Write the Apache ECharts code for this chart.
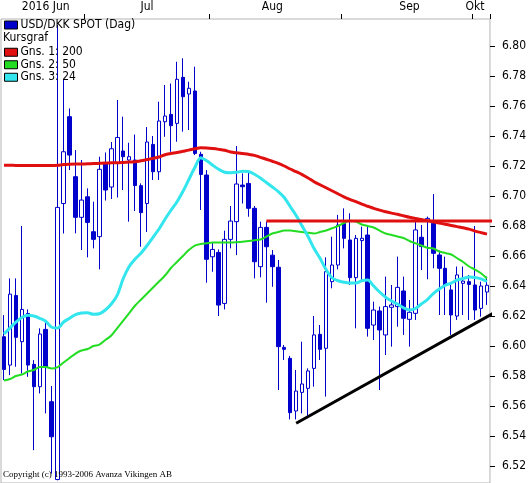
<!DOCTYPE html>
<html>
<head>
<meta charset="utf-8">
<script src="https://cdn.jsdelivr.net/npm/echarts@6/dist/echarts.min.js"></script>
<style>
  html, body { margin: 0; padding: 0; background: #fff; }
  #chart { width: 529px; height: 483px; }
</style>
</head>
<body>
<div id="chart"></div>
<script>
// handelsdagar 2016-06-13 .. 2016-10-05
const dates = [
  '2016-06-13','2016-06-14','2016-06-15','2016-06-16','2016-06-17',
  '2016-06-20','2016-06-21','2016-06-22','2016-06-23','2016-06-24',
  '2016-06-27','2016-06-28','2016-06-29','2016-06-30',
  '2016-07-01','2016-07-04','2016-07-05','2016-07-06','2016-07-07','2016-07-08',
  '2016-07-11','2016-07-12','2016-07-13','2016-07-14','2016-07-15',
  '2016-07-18','2016-07-19','2016-07-20','2016-07-21','2016-07-22',
  '2016-07-25','2016-07-26','2016-07-27','2016-07-28','2016-07-29',
  '2016-08-01','2016-08-02','2016-08-03','2016-08-04','2016-08-05',
  '2016-08-08','2016-08-09','2016-08-10','2016-08-11','2016-08-12',
  '2016-08-15','2016-08-16','2016-08-17','2016-08-18','2016-08-19',
  '2016-08-22','2016-08-23','2016-08-24','2016-08-25','2016-08-26',
  '2016-08-30','2016-08-31',
  '2016-09-01','2016-09-02','2016-09-05','2016-09-06','2016-09-07','2016-09-08','2016-09-09',
  '2016-09-12','2016-09-13','2016-09-14','2016-09-15','2016-09-16',
  '2016-09-19','2016-09-20','2016-09-21','2016-09-22','2016-09-23',
  '2016-09-26','2016-09-27','2016-09-28','2016-09-29','2016-09-30',
  '2016-10-03','2016-10-04','2016-10-05'
]

// [open, close, low, high]
const ohlc = [
  [6.6062, 6.5844, 6.5773, 6.6206], [6.5873, 6.6346, 6.5806, 6.6451], [6.6337, 6.6058, 6.5862, 6.6451],
  [6.6029, 6.6244, 6.5817, 6.6800], [6.6217, 6.5873, 6.5795, 6.6244], [6.5878, 6.5729, 6.5306, 6.5906],
  [6.5729, 6.6080, 6.5684, 6.6118], [6.6111, 6.5862, 6.5551, 6.6173], [6.5629, 6.5395, 6.5150, 6.5733],
  [6.5110, 6.6924, 6.5105, 6.8140], [6.6950, 6.7295, 6.6750, 6.7780], [6.7529, 6.7273, 6.7173, 6.7584],
  [6.7129, 6.6858, 6.6751, 6.7306], [6.6858, 6.6973, 6.6640, 6.7240], [6.6995, 6.6824, 6.6591, 6.7051],
  [6.6762, 6.6711, 6.6651, 6.6962], [6.6729, 6.7178, 6.6511, 6.7262], [6.7220, 6.7040, 6.6970, 6.7290],
  [6.7060, 6.7315, 6.6980, 6.7360], [6.7220, 6.7390, 6.6990, 6.7640], [6.7300, 6.7262, 6.7040, 6.7529],
  [6.7240, 6.7262, 6.6829, 6.7355], [6.7240, 6.7070, 6.6900, 6.7410], [6.7069, 6.6889, 6.6662, 6.7084],
  [6.6950, 6.7360, 6.6760, 6.7460], [6.7344, 6.7162, 6.7107, 6.7400], [6.7162, 6.7500, 6.7107, 6.7629],
  [6.7495, 6.7533, 6.7395, 6.7740], [6.7544, 6.7469, 6.7295, 6.7750], [6.7484, 6.7778, 6.7362, 6.7895],
  [6.7791, 6.7662, 6.7429, 6.7918], [6.7680, 6.7718, 6.7440, 6.7762], [6.7700, 6.7284, 6.7273, 6.7862],
  [6.7278, 6.7144, 6.6907, 6.7295], [6.7140, 6.6578, 6.6422, 6.7173], [6.6595, 6.6644, 6.6495, 6.6689],
  [6.6624, 6.6273, 6.6200, 6.6644], [6.6284, 6.6711, 6.6244, 6.6769], [6.6711, 6.6833, 6.6651, 6.6933],
  [6.6829, 6.7080, 6.6606, 6.7333], [6.7073, 6.7062, 6.6950, 6.7151], [6.7084, 6.6918, 6.6862, 6.7162],
  [6.6918, 6.6562, 6.6451, 6.6933], [6.6529, 6.6791, 6.6458, 6.6829], [6.6791, 6.6662, 6.6289, 6.6829],
  [6.6606, 6.6529, 6.6395, 6.6640], [6.6525, 6.5996, 6.5707, 6.6574], [6.5991, 6.5978, 6.5907, 6.6007],
  [6.5918, 6.5556, 6.5511, 6.5934], [6.5567, 6.5700, 6.5511, 6.5840], [6.5691, 6.5747, 6.5551, 6.6029],
  [6.5718, 6.5834, 6.5529, 6.5851], [6.5851, 6.6074, 6.5729, 6.6200], [6.6078, 6.5978, 6.5907, 6.6140],
  [6.5985, 6.6496, 6.5663, 6.6591], [6.6429, 6.6540, 6.6385, 6.6729], [6.6540, 6.6807, 6.6511, 6.6874],
  [6.6818, 6.6718, 6.6651, 6.6918], [6.6707, 6.6456, 6.6407, 6.6885], [6.6456, 6.6718, 6.6118, 6.6740],
  [6.6703, 6.6718, 6.6440, 6.6796], [6.6740, 6.6118, 6.6063, 6.6796], [6.6140, 6.6240, 6.6040, 6.6296],
  [6.6234, 6.6107, 6.5707, 6.6263], [6.6074, 6.6263, 6.5940, 6.6463], [6.6258, 6.6274, 6.5996, 6.6407],
  [6.6263, 6.6391, 6.6129, 6.6596], [6.6367, 6.6185, 6.6074, 6.6463], [6.6178, 6.6225, 6.5996, 6.6307],
  [6.6218, 6.6774, 6.6174, 6.6840], [6.6725, 6.6663, 6.6507, 6.6807], [6.6836, 6.6851, 6.6445, 6.6863],
  [6.6818, 6.6618, 6.6518, 6.7013], [6.6607, 6.6518, 6.6207, 6.6636], [6.6518, 6.6407, 6.6207, 6.6596],
  [6.6374, 6.6207, 6.6074, 6.6418], [6.6200, 6.6474, 6.6174, 6.6530], [6.6418, 6.6433, 6.6207, 6.6530],
  [6.6429, 6.6411, 6.6174, 6.6474], [6.6407, 6.6240, 6.6174, 6.6800], [6.6251, 6.6400, 6.6196, 6.6429],
  [6.6360, 6.6405, 6.6274, 6.6463]
]

// glidande medelvärden
const gns200 = [
  6.7205, 6.7205, 6.7204, 6.7204, 6.7203, 6.7203, 6.7204, 6.7204, 6.7203, 6.7205,
  6.7210, 6.7212, 6.7213, 6.7213, 6.7215, 6.7216, 6.7218, 6.7220, 6.7221, 6.7222,
  6.7224, 6.7226, 6.7228, 6.7235, 6.7243, 6.7251, 6.7260, 6.7275, 6.7283, 6.7290,
  6.7298, 6.7306, 6.7315, 6.7322, 6.7320, 6.7316, 6.7311, 6.7305, 6.7294, 6.7288,
  6.7283, 6.7278, 6.7271, 6.7258, 6.7245, 6.7232, 6.7218, 6.7200, 6.7180, 6.7162,
  6.7143, 6.7120, 6.7095, 6.7075, 6.7055, 6.7035, 6.7015, 6.6995, 6.6978, 6.6962,
  6.6946, 6.6932, 6.6918, 6.6906, 6.6895, 6.6886, 6.6878, 6.6868, 6.6858, 6.6850,
  6.6843, 6.6836, 6.6828, 6.6820, 6.6812, 6.6804, 6.6796, 6.6788, 6.6779, 6.6766,
  6.6756, 6.6746
]
const gns50 = [
  6.5770, 6.5780, 6.5800, 6.5810, 6.5830, 6.5840, 6.5860, 6.5860, 6.5850, 6.5860,
  6.5890, 6.5920, 6.5950, 6.5970, 6.5980, 6.6000, 6.6010, 6.6040, 6.6070, 6.6120,
  6.6170, 6.6220, 6.6270, 6.6310, 6.6350, 6.6390, 6.6430, 6.6470, 6.6520, 6.6560,
  6.6600, 6.6640, 6.6670, 6.6680, 6.6685, 6.6690, 6.6690, 6.6690, 6.6690, 6.6692,
  6.6695, 6.6700, 6.6705, 6.6710, 6.6730, 6.6750, 6.6760, 6.6770, 6.6770, 6.6765,
  6.6760, 6.6755, 6.6750, 6.6760, 6.6770, 6.6785, 6.6800, 6.6820, 6.6835, 6.6830,
  6.6810, 6.6800, 6.6790, 6.6770, 6.6750, 6.6740, 6.6730, 6.6720, 6.6700, 6.6685,
  6.6670, 6.6655, 6.6650, 6.6630, 6.6620, 6.6610, 6.6585, 6.6560, 6.6530, 6.6510,
  6.6485, 6.6450
]
const gns24 = [
  6.6080, 6.6120, 6.6160, 6.6190, 6.6205, 6.6200, 6.6185, 6.6165, 6.6125, 6.6120,
  6.6160, 6.6185, 6.6210, 6.6220, 6.6222, 6.6212, 6.6215, 6.6240, 6.6280, 6.6340,
  6.6450, 6.6530, 6.6580, 6.6620, 6.6670, 6.6725, 6.6780, 6.6845, 6.6905, 6.6960,
  6.7030, 6.7110, 6.7190, 6.7255, 6.7235, 6.7205, 6.7178, 6.7158, 6.7155, 6.7158,
  6.7165, 6.7163, 6.7145, 6.7120, 6.7090, 6.7060, 6.7030, 6.6990, 6.6930, 6.6870,
  6.6800, 6.6730, 6.6650, 6.6585, 6.6510, 6.6455, 6.6435, 6.6425, 6.6420, 6.6420,
  6.6435, 6.6440, 6.6400, 6.6360, 6.6325, 6.6300, 6.6280, 6.6255, 6.6240, 6.6250,
  6.6280, 6.6310, 6.6350, 6.6380, 6.6405, 6.6420, 6.6440, 6.6450, 6.6460, 6.6457,
  6.6448, 6.6430
]

// inritade trendlinjer [index, kurs]
const motstand = [[43.5, 6.6833], [81.5, 6.6833]]
const stod = [[49.4, 6.5485], [81.5, 6.6217]]

const yTicks = [6.52, 6.54, 6.56, 6.58, 6.60, 6.62, 6.64, 6.66, 6.68, 6.70, 6.72, 6.74, 6.76, 6.78, 6.80]
const monthLabelIdx = [7, 24, 45, 68, 79]
const monthLabelText = ['2016 Jun', 'Jul', 'Aug', 'Sep', 'Okt']
const monthTickIdx = [14, 35, 57, 79]

const font = "'Liberation Sans Narrow', 'DejaVu Sans Condensed', 'Liberation Sans', Arial, sans-serif"
const blue = '#0000cc'

const myChart = echarts.init(document.getElementById('chart'))
const option = {
  animation: false,
  backgroundColor: '#fff',
  title: [
    {
      text: 'Kursgraf',
      left: 3,
      top: 32,
      padding: 0,
      textStyle: { fontFamily: font, fontSize: 12, fontWeight: 'normal', color: '#000' }
    },
    {
      text: 'Copyright (c) 1993-2006 Avanza Vikingen AB',
      left: 3,
      bottom: 4,
      padding: 0,
      textStyle: { fontFamily: "'Liberation Serif', 'Times New Roman', serif", fontSize: 9, fontWeight: 'normal', color: '#000' }
    }
  ],
  legend: [
    {
      left: 4,
      top: 19,
      padding: 0,
      itemWidth: 13,
      itemHeight: 8,
      itemGap: 0,
      icon: 'rect',
      selectedMode: false,
      textStyle: { fontFamily: font, fontSize: 12, color: '#000', padding: [0, 0, 0, -2] },
      data: [
        { name: 'USD/DKK SPOT (Dag)', itemStyle: { color: blue, borderColor: '#000', borderWidth: 1 } }
      ]
    },
    {
      left: 4,
      top: 46,
      padding: 0,
      orient: 'vertical',
      itemWidth: 13,
      itemHeight: 8,
      itemGap: 0,
      icon: 'rect',
      selectedMode: false,
      textStyle: { fontFamily: font, fontSize: 12, lineHeight: 12.5, color: '#000', padding: [0, 0, 0, -2] },
      data: [
        { name: 'Gns. 1: 200', itemStyle: { color: '#e01010', borderColor: '#000', borderWidth: 1 } },
        { name: 'Gns. 2: 50', itemStyle: { color: '#22dd22', borderColor: '#000', borderWidth: 1 } },
        { name: 'Gns. 3: 24', itemStyle: { color: '#33e6ee', borderColor: '#000', borderWidth: 1 } }
      ]
    }
  ],
  grid: {
    left: 1,
    right: 36,
    top: 19,
    bottom: 0,
    show: true,
    borderColor: '#b4b4b4',
    borderWidth: 1,
    backgroundColor: 'transparent'
  },
  xAxis: {
    type: 'category',
    position: 'top',
    data: dates,
    boundaryGap: true,
    axisLine: { show: false },
    axisTick: {
      show: true,
      length: 5,
      interval: (idx) => monthTickIdx.includes(idx),
      lineStyle: { color: '#000', width: 1 }
    },
    axisLabel: {
      show: true,
      margin: 6,
      interval: (idx) => monthLabelIdx.includes(idx),
      formatter: (val, idx) => monthLabelText[monthLabelIdx.indexOf(idx)],
      fontFamily: font,
      fontSize: 12,
      color: '#000'
    },
    splitLine: { show: false }
  },
  yAxis: {
    type: 'value',
    position: 'right',
    min: 6.5087,
    max: 6.818,
    scale: true,
    axisLine: { show: false },
    axisTick: {
      show: true,
      length: 5,
      customValues: yTicks,
      lineStyle: { color: '#000', width: 1 }
    },
    axisLabel: {
      margin: 12,
      customValues: yTicks,
      formatter: (v) => v.toFixed(2),
      fontFamily: font,
      fontSize: 12,
      color: '#000'
    },
    splitLine: { show: false }
  },
  series: [
    {
      name: 'USD/DKK SPOT (Dag)',
      type: 'candlestick',
      data: ohlc,
      barWidth: 4,
      clip: true,
      itemStyle: {
        color: '#fff',
        color0: blue,
        borderColor: blue,
        borderColor0: blue,
        borderWidth: 1
      }
    },
    {
      name: 'Gns. 1: 200',
      type: 'line',
      data: gns200,
      symbol: 'none',
      smooth: 0.3,
      lineStyle: { color: '#e01010', width: 3 },
      itemStyle: { color: '#e01010' }
    },
    {
      name: 'Gns. 2: 50',
      type: 'line',
      data: gns50,
      symbol: 'none',
      smooth: 0.3,
      lineStyle: { color: '#22dd22', width: 2 },
      itemStyle: { color: '#22dd22' }
    },
    {
      name: 'Gns. 3: 24',
      type: 'line',
      data: gns24,
      symbol: 'none',
      smooth: 0.3,
      lineStyle: { color: '#33e6ee', width: 3 },
      itemStyle: { color: '#33e6ee' }
    },
    {
      name: 'motstand',
      type: 'line',
      data: motstand,
      symbol: 'none',
      lineStyle: { color: '#e01010', width: 3 }
    },
    {
      name: 'stod',
      type: 'line',
      data: stod,
      symbol: 'none',
      lineStyle: { color: '#000', width: 3 }
    }
  ]
}
myChart.setOption(option)
</script>
</body>
</html>
